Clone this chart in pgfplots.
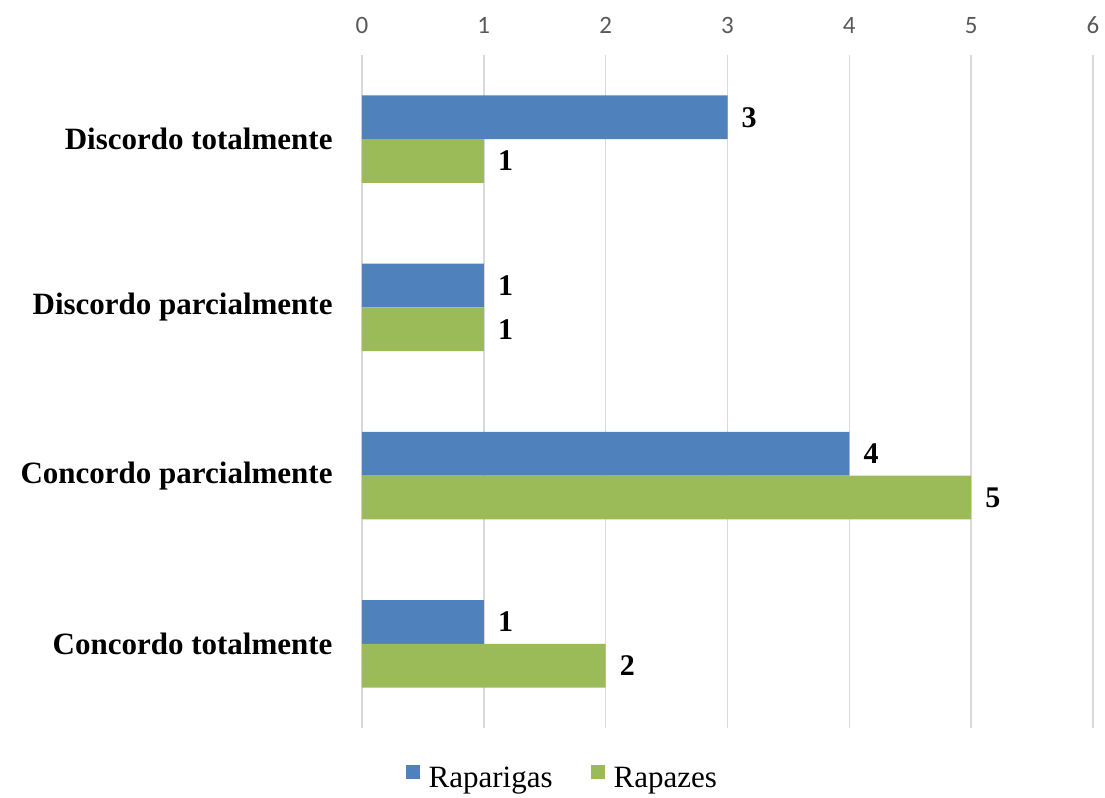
\documentclass[border=0pt]{standalone}
\usepackage{pgfplots}
\pgfplotsset{compat=1.18}
\usetikzlibrary{calc}
\usepackage{fontspec}
\setmainfont{Liberation Serif}
\newfontfamily\calibri{Carlito}

\definecolor{barblue}{RGB}{79,129,189}
\definecolor{bargreen}{RGB}{155,187,89}
\definecolor{gridgray}{RGB}{217,217,217}
\definecolor{ticktext}{RGB}{89,89,89}

\begin{document}
\begin{tikzpicture}
\begin{axis}[
  name=ax,
  scale only axis,
  width=731bp, height=673bp,
  xbar,
  bar width=0.26,
  xmin=0, xmax=6,
  ymin=-0.5, ymax=3.5,
  /pgf/number format/assume math mode=true,
  xtick={0,1,2,3,4,5,6},
  xticklabel pos=upper,
  xticklabel style={font=\calibri\fontsize{25bp}{29bp}\selectfont, text=ticktext, inner sep=0pt, anchor=south, yshift=21bp},
  ytick={0,1,2,3},
  yticklabels={Concordo totalmente, Concordo parcialmente, Discordo parcialmente, Discordo totalmente},
  yticklabel style={font=\bfseries\fontsize{31bp}{37bp}\selectfont, inner sep=0pt, anchor=east, xshift=-25bp},
  axis line style={draw=none},
  tick style={draw=none},
  xmajorgrids,
  major grid style={gridgray, line width=1.6bp},
  nodes near coords,
  nodes near coords style={font=\bfseries\fontsize{30bp}{36bp}\selectfont, anchor=west, inner sep=0pt, xshift=14bp},
  legend columns=2,
  legend style={at={(0.274,-0.074)}, anchor=center, draw=none, fill=none,
    font=\fontsize{31bp}{36bp}\selectfont,
    /tikz/every even column/.append style={column sep=36bp}},
  legend image code/.code={\fill[#1, draw=none] (0bp,-1bp) rectangle (14bp,13bp); \path (21bp,0bp);},
]
\addplot[fill=barblue, draw=none, bar shift=0.13]
  coordinates {(1,0) (4,1) (1,2) (3,3)};
\addplot[fill=bargreen, draw=none, bar shift=-0.13]
  coordinates {(2,0) (5,1) (1,2) (1,3)};
\legend{Raparigas, Rapazes}
\end{axis}
\pgfresetboundingbox
\useasboundingbox ($(ax.south west)+(-362bp,-70bp)$) rectangle ($(ax.south west)+(743bp,728bp)$);
\end{tikzpicture}
\end{document}
